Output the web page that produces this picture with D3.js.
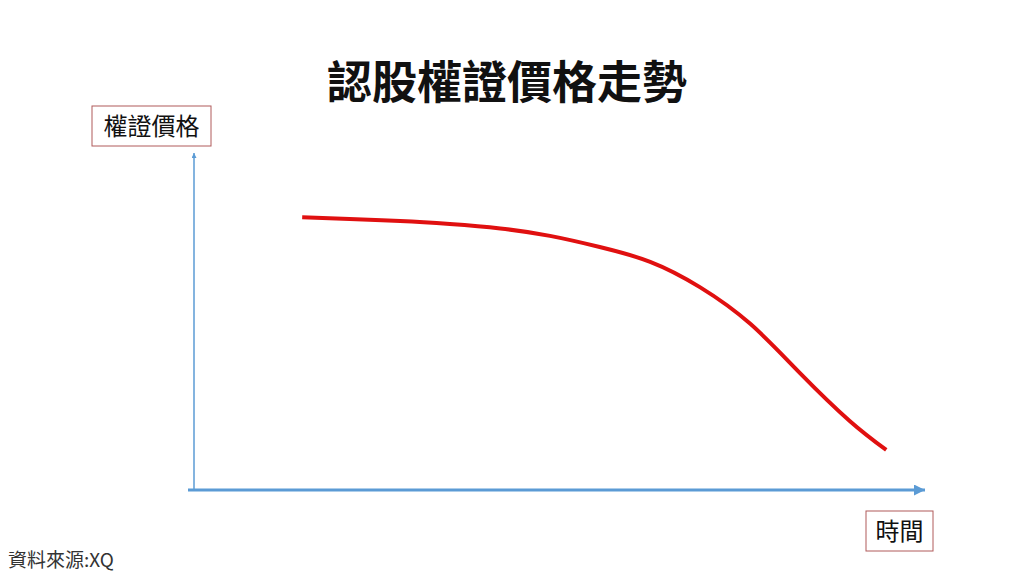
<!DOCTYPE html>
<html>
<head>
<meta charset="utf-8">
<script src="https://cdn.jsdelivr.net/npm/d3@7"></script>
<style>
  html, body { margin: 0; padding: 0; background: #fff; }
  svg { display: block; font-family: "Noto Sans CJK TC", "Noto Sans", sans-serif; }
</style>
</head>
<body>
<svg id="chart" width="1024" height="576"></svg>
<script>
// time (arbitrary units) and warrant price
const times  = [1.48, 2.13, 2.82, 3.50, 4.19, 4.87, 5.55, 6.24, 6.92, 7.61, 8.29, 8.97, 9.47];
const prices = [8.09, 8.04, 7.98, 7.89, 7.76, 7.54, 7.21, 6.77, 6.02, 4.93, 3.47, 2.05, 1.19];

const title = '認股權證價格走勢';
const yLabel = '權證價格';
const xLabel = '時間';
const source = '資料來源:XQ';

const svg = d3.select('#chart');

const x = d3.scaleLinear().domain([0, 10]).range([194, 925]);
const y = d3.scaleLinear().domain([0, 10]).range([490, 153]);

const axisColor = '#5b9bd5';

// arrowheads
const defs = svg.append('defs');
defs.append('marker')
    .attr('id', 'arrowX')
    .attr('viewBox', '0 0 10 10')
    .attr('refX', 10).attr('refY', 5)
    .attr('markerUnits', 'userSpaceOnUse')
    .attr('markerWidth', 11).attr('markerHeight', 11)
    .attr('orient', 'auto')
  .append('path')
    .attr('d', 'M0,0 L10,5 L0,10 Z')
    .attr('fill', axisColor);
defs.append('marker')
    .attr('id', 'arrowY')
    .attr('viewBox', '0 0 10 10')
    .attr('refX', 10).attr('refY', 5)
    .attr('markerUnits', 'userSpaceOnUse')
    .attr('markerWidth', 5).attr('markerHeight', 5)
    .attr('orient', 'auto')
  .append('path')
    .attr('d', 'M0,0 L10,5 L0,10 Z')
    .attr('fill', axisColor);

// axes
svg.append('line')
    .attr('x1', x(0)).attr('y1', y(0))
    .attr('x2', x(0)).attr('y2', y(10))
    .attr('stroke', axisColor)
    .attr('stroke-width', 1.5)
    .attr('marker-end', 'url(#arrowY)');

svg.append('line')
    .attr('x1', x(0) - 6).attr('y1', y(0))
    .attr('x2', x(10)).attr('y2', y(0))
    .attr('stroke', axisColor)
    .attr('stroke-width', 3)
    .attr('marker-end', 'url(#arrowX)');

// price curve
const line = d3.line()
    .x((d, i) => x(times[i]))
    .y(d => y(d))
    .curve(d3.curveNatural);

svg.append('path')
    .datum(prices)
    .attr('d', line)
    .attr('fill', 'none')
    .attr('stroke', '#e01010')
    .attr('stroke-width', 4)
    .attr('stroke-linecap', 'butt');

// title
svg.append('text')
    .attr('x', 507).attr('y', 99)
    .attr('text-anchor', 'middle')
    .attr('font-size', 45)
    .attr('font-weight', 'bold')
    .attr('fill', '#111')
    .text(title);

// boxed labels
function boxLabel(text, bx, by, bw, bh) {
    const g = svg.append('g');
    g.append('rect')
        .attr('x', bx).attr('y', by)
        .attr('width', bw).attr('height', bh)
        .attr('fill', '#fff')
        .attr('stroke', '#b05a5a')
        .attr('stroke-width', 1);
    g.append('text')
        .attr('x', bx + bw / 2).attr('y', by + bh / 2 + 8.5)
        .attr('text-anchor', 'middle')
        .attr('font-size', 24)
        .attr('fill', '#111')
        .text(text);
}
boxLabel(yLabel, 92, 106, 119, 40);
boxLabel(xLabel, 866, 511, 67, 40);

// source note
svg.append('text')
    .attr('x', 8).attr('y', 567)
    .attr('font-size', 19)
    .attr('fill', '#333')
    .text(source);
</script>
</body>
</html>
